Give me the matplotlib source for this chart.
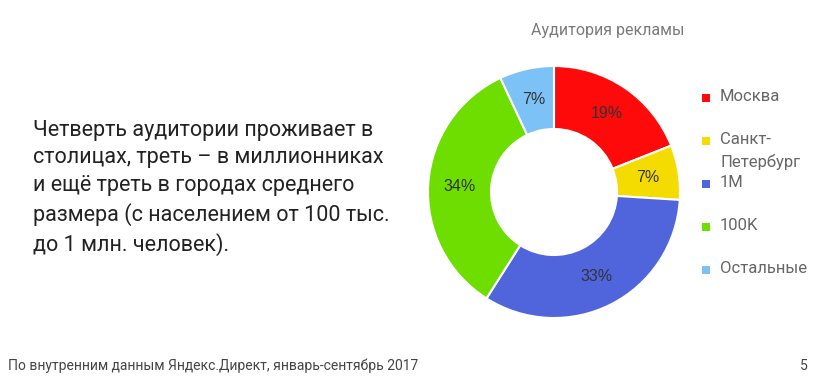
import matplotlib.pyplot as plt
from matplotlib.patches import Rectangle
import numpy as np

# data
categories = ['Москва', 'Санкт-\nПетербург', '1М', '100K', 'Остальные']
shares = [19, 7, 33, 34, 7]
colors = ['#fe0a0a', '#f5dc00', '#5064dc', '#6ede00', '#7cc2f6']

plt.rcParams['font.family'] = ['Roboto', 'DejaVu Sans']

fig = plt.figure(figsize=(8.31, 3.91), dpi=100, facecolor='white')
W, H = 831, 391

# donut, centre ~ (554,192) px, radius ~126 px
cx, cy, r = 554, 192, 126
ax = fig.add_axes([(cx - r) / W, (H - cy - r) / H, 2 * r / W, 2 * r / H])
wedges, _ = ax.pie(shares, colors=colors, startangle=90, counterclock=False,
                   radius=1.0, wedgeprops=dict(width=0.5, edgecolor='white', linewidth=1.5))
for w, v in zip(wedges, shares):
    ang = np.radians((w.theta1 + w.theta2) / 2)
    ax.text(0.75 * np.cos(ang), 0.75 * np.sin(ang), f'{v}%', ha='center', va='center',
            fontsize=11.5, color='#333333', family=['Liberation Sans', 'DejaVu Sans'])
ax.set_xlim(-1, 1)
ax.set_ylim(-1, 1)
ax.axis('off')

fig.text(608 / W, 1 - 30 / H, 'Аудитория рекламы', ha='center', va='center',
         fontsize=11.5, color='#7a7a7a')

# legend drawn by hand, 43 px step
for i, (lab, col) in enumerate(zip(categories, colors)):
    y = 98 + 43 * i
    fig.patches.append(Rectangle(((706 - 4) / W, 1 - (y + 4) / H), 8 / W, 8 / H,
                                 transform=fig.transFigure, facecolor=col, edgecolor='none'))
    fig.text(720 / W, 1 - (y - 9) / H, lab, ha='left', va='top', fontsize=12,
             color='#666666', linespacing=1.55)

fig.text(33 / W, 1 - 188 / H,
         'Четверть аудитории проживает в\n'
         'столицах, треть – в миллионниках\n'
         'и ещё треть в городах среднего\n'
         'размера (с населением от 100 тыс.\n'
         'до 1 млн. человек).',
         ha='left', va='center', fontsize=15.5, color='#222222', linespacing=1.4)

fig.text(8 / W, 1 - 366 / H, 'По внутренним данным Яндекс.Директ, январь-сентябрь 2017',
         ha='left', va='center', fontsize=10, color='#444444')
fig.text(808 / W, 1 - 366 / H, '5', ha='right', va='center', fontsize=10, color='#444444')

fig.savefig('out.png', dpi=100, facecolor='white')
